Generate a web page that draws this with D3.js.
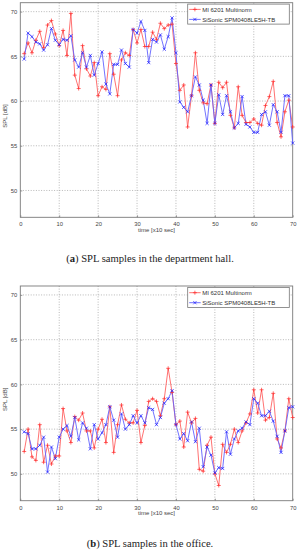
<!DOCTYPE html>
<html>
<head>
<meta charset="utf-8">
<script src="https://cdn.jsdelivr.net/npm/d3@7"></script>
<style>
  html, body { margin: 0; padding: 0; background: #fff; }
  svg { display: block; }
</style>
</head>
<body>
<svg id="chart" width="297" height="550"></svg>
<script>
// ---------- DATA ----------
const seriesNames = ["MI 6201 Multinorm", "SiSonic SPM0408LE5H-TB"];
const xTicks = [0, 10, 20, 30, 40, 50, 60, 70];
const yTicks = [50, 55, 60, 65, 70];
const captions = [["(", "a", ") SPL samples in the department hall."], ["(", "b", ") SPL samples in the office."]];

// (a) department hall
const hallMI = [65.3, 66.5, 65.4, 66.8, 67.8, 66.0, 68.5, 69.0, 67.5, 66.2,
  67.9, 65.1, 69.8, 62.9, 61.4, 66.2, 63.6, 62.8, 64.3, 60.6,
  61.6, 61.3, 65.3, 63.0, 60.6, 64.6, 65.4, 65.1, 68.0, 66.5,
  68.0, 66.1, 66.1, 67.7, 66.9, 68.7, 68.1, 68.5, 68.6, 64.2,
  61.2, 61.8, 57.1, 60.6, 65.4, 61.2, 59.8, 59.7, 61.8, 57.5,
  62.1, 61.5, 62.1, 58.4, 57.0, 61.6, 58.4, 57.6, 57.6, 58.0,
  57.5, 57.3, 59.5, 60.5, 62.2, 57.6, 56.0, 58.8, 60.1, 57.1];
const hallSiSonic = [64.7, 67.6, 67.2, 66.6, 66.4, 65.7, 66.3, 68.1, 66.8, 66.3,
  66.9, 66.8, 67.3, 64.6, 63.8, 65.4, 63.8, 65.1, 62.9, 64.2,
  65.5, 61.9, 60.8, 64.1, 64.1, 65.7, 64.2, 63.8, 68.0, 67.6,
  68.9, 67.9, 64.3, 66.9, 66.6, 67.4, 65.8, 67.2, 69.3, 65.4,
  59.9, 59.3, 58.8, 60.6, 62.7, 61.8, 60.1, 57.5, 61.8, 57.5,
  60.7, 58.5, 60.6, 58.8, 57.0, 57.5, 60.5, 57.4, 57.1, 56.5,
  56.5, 58.5, 58.8, 57.3, 59.6, 58.8, 56.5, 60.6, 60.6, 55.3];

// (b) office
const officeMI = [52.5, 55.0, 51.9, 51.5, 55.5, 51.3, 53.2, 51.1, 52.0, 52.0,
  57.3, 54.8, 53.5, 56.4, 56.0, 56.8, 54.8, 54.8, 52.9, 55.0,
  56.1, 53.5, 57.5, 52.4, 55.5, 57.7, 56.1, 55.7, 55.7, 57.1,
  53.5, 55.4, 58.1, 58.4, 58.1, 56.5, 58.4, 61.8, 59.1, 55.5,
  55.9, 53.0, 56.9, 55.7, 56.2, 50.5, 50.3, 53.2, 54.1, 50.0,
  48.7, 53.3, 52.4, 53.3, 55.0, 53.5, 54.8, 55.7, 56.7, 59.4,
  56.8, 59.4, 56.0, 56.3, 59.0, 53.9, 52.9, 54.8, 58.4, 56.3];
const officeSiSonic = [54.7, 54.5, 52.8, 52.8, 53.2, 54.1, 50.2, 53.0, 51.7, 54.1,
  55.0, 55.4, 54.2, 56.3, 53.8, 55.7, 55.1, 52.8, 55.5, 53.9,
  54.6, 55.5, 57.5, 56.0, 54.1, 56.7, 55.0, 55.5, 56.5, 55.7,
  56.5, 55.7, 57.4, 57.2, 55.5, 56.3, 57.9, 58.4, 59.3, 55.5,
  53.9, 54.5, 53.7, 55.8, 53.6, 55.1, 50.8, 53.0, 52.1, 50.1,
  50.7, 50.6, 54.7, 52.2, 53.9, 54.8, 55.1, 55.8, 55.5, 58.4,
  57.9, 56.5, 56.5, 57.0, 55.9, 54.2, 52.4, 54.8, 57.4, 57.5];

const panels = [
  { mi: hallMI, si: hallSiSonic, top: 2.7, bottom: 217.3, cap: captions[0], capY: 261.5 },
  { mi: officeMI, si: officeSiSonic, top: 286, bottom: 500.7, cap: captions[1], capY: 546.5 }
];

// ---------- DRAW ----------
const svg = d3.select("#chart");
const left = 20.3, right = 292.7;
const redLine = "#ff6262", redMark = "#ff2a2a";
const blueLine = "#6262ff", blueMark = "#1a1aff";
const tickFont = "'Liberation Sans', Arial, sans-serif";

function plusPath(s) { return `M${-s},0H${s}M0,${-s}V${s}`; }
function crossPath(s) { return `M${-s},${-s}L${s},${s}M${-s},${s}L${s},${-s}`; }

panels.forEach(p => {
  const x = d3.scaleLinear().domain([0, 70]).range([left, right]);
  const y = d3.scaleLinear().domain([47, 71]).range([p.bottom, p.top]);
  const g = svg.append("g");

  // grid
  const grid = g.append("g").attr("stroke", "#9a9a9a").attr("stroke-width", 0.7)
    .attr("stroke-dasharray", "1,1.6");
  xTicks.filter(t => t > 0 && t < 70).forEach(t => {
    grid.append("line").attr("x1", x(t)).attr("x2", x(t)).attr("y1", p.top).attr("y2", p.bottom);
  });
  yTicks.forEach(t => {
    grid.append("line").attr("x1", left).attr("x2", right).attr("y1", y(t)).attr("y2", y(t));
  });

  // axes using d3 axes (ticks inside)
  const xAxis = g.append("g").attr("transform", `translate(0,${p.bottom})`)
    .call(d3.axisBottom(x).tickValues(xTicks).tickSize(-2).tickPadding(5).tickFormat(d3.format("d")));
  const yAxis = g.append("g").attr("transform", `translate(${left},0)`)
    .call(d3.axisLeft(y).tickValues(yTicks).tickSize(-2).tickPadding(3).tickFormat(d3.format("d")));
  [xAxis, yAxis].forEach(a => {
    a.select(".domain").remove();
    a.selectAll("line").attr("stroke", "#777").attr("stroke-width", 0.7);
    a.selectAll("text").attr("font-family", tickFont).attr("font-size", 5.8).attr("fill", "#444");
  });

  // box
  g.append("rect").attr("x", left).attr("y", p.top).attr("width", right - left)
    .attr("height", p.bottom - p.top).attr("fill", "none").attr("stroke", "#7a7a7a").attr("stroke-width", 0.9);

  // axis labels
  g.append("text").attr("x", (left + right) / 2).attr("y", p.bottom + 14.5)
    .attr("text-anchor", "middle").attr("font-family", tickFont).attr("font-size", 6)
    .attr("fill", "#444").text("time [x10 sec]");
  const ymid = (p.top + p.bottom) / 2;
  g.append("text").attr("transform", `translate(7,${ymid + 6}) rotate(-90)`)
    .attr("text-anchor", "middle").attr("font-family", tickFont).attr("font-size", 6)
    .attr("fill", "#444").text("SPL [dB]");

  // series
  const line = d3.line().x((d, i) => x(i + 1)).y(d => y(d));
  const series = [
    { vals: p.mi, lc: redLine, mc: redMark, mk: plusPath },
    { vals: p.si, lc: blueLine, mc: blueMark, mk: crossPath }
  ];
  series.forEach(s => {
    g.append("path").datum(s.vals).attr("d", line).attr("fill", "none")
      .attr("stroke", s.lc).attr("stroke-width", 0.9);
  });
  series.forEach(s => {
    g.append("g").selectAll("path").data(s.vals).join("path")
      .attr("transform", (d, i) => `translate(${x(i + 1)},${y(d)})`)
      .attr("d", s.mk === plusPath ? plusPath(2) : crossPath(1.6))
      .attr("fill", "none").attr("stroke", s.mc).attr("stroke-width", 0.7);
  });

  // legend
  const lx = 187.7, ly = p.top + 1.4, lw = 101.6, lh = 20;
  const lg = g.append("g");
  lg.append("rect").attr("x", lx).attr("y", ly).attr("width", lw).attr("height", lh)
    .attr("fill", "#fff").attr("stroke", "#777").attr("stroke-width", 0.8);
  series.forEach((s, i) => {
    const ry = ly + 5.3 + i * 10;
    lg.append("line").attr("x1", lx + 1.5).attr("x2", lx + 13).attr("y1", ry).attr("y2", ry)
      .attr("stroke", s.lc).attr("stroke-width", 0.9);
    lg.append("path").attr("transform", `translate(${lx + 7.2},${ry})`)
      .attr("d", s.mk === plusPath ? plusPath(2) : crossPath(1.6))
      .attr("fill", "none").attr("stroke", s.mc).attr("stroke-width", 0.7);
    lg.append("text").attr("x", lx + 14.5).attr("y", ry + 2.1)
      .attr("font-family", tickFont).attr("font-size", 6).attr("fill", "#333")
      .text(seriesNames[i]);
  });

  // caption
  const cap = svg.append("text").attr("x", 150).attr("y", p.capY).attr("text-anchor", "middle")
    .attr("font-family", "'Liberation Serif', 'DejaVu Serif', serif").attr("font-size", 10.6).attr("fill", "#222");
  cap.append("tspan").text(p.cap[0]);
  cap.append("tspan").attr("font-weight", "bold").text(p.cap[1]);
  cap.append("tspan").text(p.cap[2]);
});
</script>
</body>
</html>
